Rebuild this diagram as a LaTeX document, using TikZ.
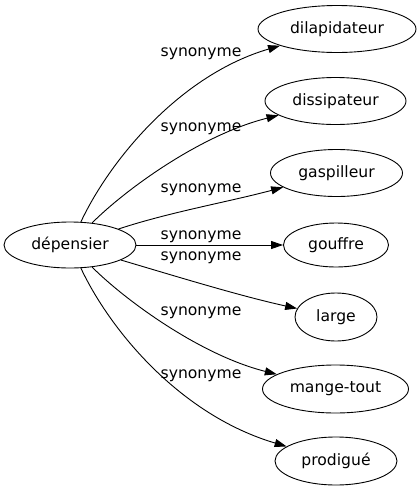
\documentclass[tikz,border=0pt]{standalone}
\usepackage{fontspec}
\setmainfont{DejaVu Sans}
\usetikzlibrary{arrows.meta,shapes.geometric}
\begin{document}
\begin{tikzpicture}[x=1pt,y=-1pt,
  every node/.style={font=\fontsize{15.6}{18}\selectfont},
  wnode/.style={draw,ellipse,line width=0.9pt,inner sep=0pt},
  syn/.style={draw,line width=0.9pt,-{Triangle[length=12pt,width=8pt]}},
  lab/.style={anchor=base,inner sep=0pt}]
\useasboundingbox (0,0) rectangle (418,491);
\node[wnode,minimum width=132pt,minimum height=46pt] (dep) at (70,245) {dépensier};
\node[wnode,minimum width=158pt,minimum height=47pt] (dil) at (337,29) {dilapidateur};
\node[wnode,minimum width=141pt,minimum height=47pt] (dis) at (335.5,101) {dissipateur};
\node[wnode,minimum width=132pt,minimum height=47pt] (gas) at (336.5,173) {gaspilleur};
\node[wnode,minimum width=105pt,minimum height=44pt] (gou) at (336,245) {gouffre};
\node[wnode,minimum width=82pt,minimum height=48pt] (lar) at (336,317) {large};
\node[wnode,minimum width=146pt,minimum height=48pt] (man) at (335.5,389) {mange-tout};
\node[wnode,minimum width=122pt,minimum height=48pt] (pro) at (336,461) {prodigué};
\draw[syn] (dep) .. controls (110,160) and (180,75) .. (dil);
\draw[syn] (dep) .. controls (125,190) and (200,135) .. (dis);
\draw[syn] (dep) .. controls (170,212) and (228,202) .. (gas);
\draw[syn] (dep) -- (gou);
\draw[syn] (dep) .. controls (175,276) and (240,296) .. (lar);
\draw[syn] (dep) .. controls (125,300) and (200,355) .. (man);
\draw[syn] (dep) .. controls (110,330) and (180,415) .. (pro);
\node[lab] (l1) at (201,56.7) {synonyme};
\node[lab] (l2) at (201,131.5) {synonyme};
\node[lab] (l3) at (201,192.5) {synonyme};
\node[lab] (l4) at (201,239) {synonyme};
\node[lab] (l5) at (201,260.7) {synonyme};
\node[lab] (l6) at (201,315) {synonyme};
\node[lab] (l7) at (201,378.3) {synonyme};
\end{tikzpicture}
\end{document}
